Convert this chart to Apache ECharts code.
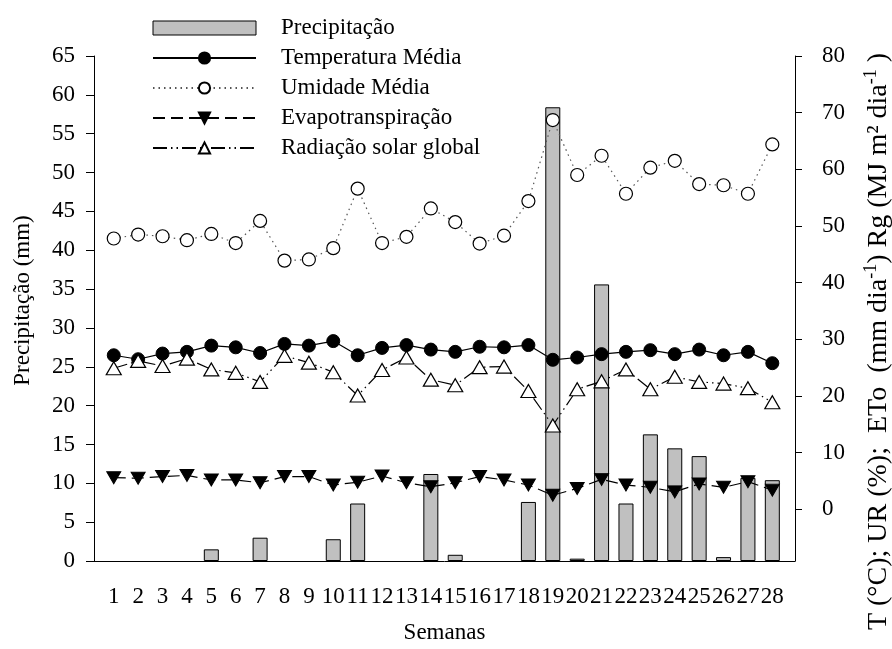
<!DOCTYPE html>
<html>
<head>
<meta charset="utf-8">
<script src="https://cdn.jsdelivr.net/npm/echarts@6/dist/echarts.min.js"></script>
<style>
  html, body { margin: 0; padding: 0; background: #fff; }
  #main { width: 892px; height: 649px; }
</style>
</head>
<body>
<div id="main"></div>
<script>
// semanas
var weeks = [1, 2, 3, 4, 5, 6, 7, 8, 9, 10, 11, 12, 13, 14, 15, 16, 17, 18, 19, 20, 21, 22, 23, 24, 25, 26, 27, 28];
// eixo esquerdo (mm)
var precipitacao = [0, 0, 0, 0, 1.5, 0, 3.0, 0, 0, 2.8, 7.4, 0, 0, 11.2, 0.8, 0, 0, 7.6, 58.4, 0.3, 35.6, 7.4, 16.3, 14.5, 13.5, 0.5, 10.7, 10.4];
// eixo direito
var temperatura = [27.2, 26.5, 27.5, 27.8, 28.9, 28.6, 27.6, 29.2, 28.9, 29.7, 27.2, 28.5, 29.0, 28.2, 27.8, 28.7, 28.6, 29.0, 26.4, 26.8, 27.4, 27.8, 28.1, 27.4, 28.2, 27.2, 27.8, 25.8];
var umidade = [47.8, 48.5, 48.2, 47.5, 48.6, 47.0, 50.9, 43.9, 44.1, 46.1, 56.6, 47.0, 48.1, 53.1, 50.7, 46.9, 48.3, 54.4, 68.7, 59.0, 62.4, 55.7, 60.3, 61.5, 57.4, 57.2, 55.7, 64.4];
var evapotranspiracao = [5.6, 5.5, 5.8, 6.0, 5.2, 5.2, 4.7, 5.8, 5.8, 4.3, 4.8, 5.9, 4.7, 4.0, 4.7, 5.8, 5.2, 4.3, 2.5, 3.7, 5.3, 4.3, 3.9, 3.1, 4.5, 3.9, 4.9, 3.4];
var radiacao = [24.9, 26.2, 25.3, 26.6, 24.7, 24.1, 22.5, 27.1, 25.9, 24.2, 20.1, 24.6, 26.8, 22.9, 21.9, 25.1, 25.2, 20.9, 14.8, 21.2, 22.6, 24.7, 21.2, 23.4, 22.5, 22.2, 21.4, 18.9];
// rótulos dos eixos
var leftTicks = [0, 5, 10, 15, 20, 25, 30, 35, 40, 45, 50, 55, 60, 65];
var rightTicks = [0, 10, 20, 30, 40, 50, 60, 70, 80];

var serif = "'Liberation Serif', 'Times New Roman', serif";

function pairs(arr) {
  return weeks.map(function (w, i) { return [w, arr[i]]; });
}

var chart = echarts.init(document.getElementById('main'), null, { renderer: 'canvas' });

var option = {
  backgroundColor: '#fff',
  animation: false,
  textStyle: { fontFamily: serif, color: '#000' },
  grid: { left: 94, right: 97, top: 56, bottom: 88, outerBoundsMode: 'none', containLabel: false },
  legend: {
    orient: 'vertical',
    left: 147,
    top: 11,
    itemWidth: 103,
    itemHeight: 14,
    itemGap: 6,
    textStyle: { fontFamily: serif, fontSize: 23, color: '#000', lineHeight: 24, padding: [0, 0, 0, 20] },
    data: [
      { name: 'Precipitação', icon: 'rect', itemStyle: { color: '#c0c0c0', borderColor: '#000', borderWidth: 1 } },
      { name: 'Temperatura Média' },
      { name: 'Umidade Média' },
      { name: 'Evapotranspiração' },
      { name: 'Radiação solar global' }
    ]
  },
  xAxis: {
    type: 'value',
    min: 0.19,
    max: 28.93,
    name: 'Semanas',
    nameLocation: 'middle',
    nameGap: 60,
    nameTextStyle: { fontFamily: serif, fontSize: 23, color: '#000' },
    axisLine: { show: true, lineStyle: { color: '#000', width: 1 } },
    axisTick: { show: false },
    splitLine: { show: false },
    axisLabel: {
      customValues: weeks,
      margin: 24,
      fontFamily: serif,
      fontSize: 23,
      color: '#000'
    }
  },
  yAxis: [{
    type: 'value',
    min: 0,
    max: 65,
    position: 'left',
    name: 'Precipitação (mm)',
    nameLocation: 'middle',
    nameGap: 60,
    nameTextStyle: { fontFamily: serif, fontSize: 23, color: '#000', padding: [0, 0, 0, 16] },
    axisLine: { show: true, lineStyle: { color: '#000', width: 1 } },
    axisTick: { show: true, length: 8, customValues: leftTicks, lineStyle: { color: '#000' } },
    splitLine: { show: false },
    axisLabel: { customValues: leftTicks, margin: 19, fontFamily: serif, fontSize: 23, color: '#000' }
  }, {
    type: 'value',
    min: -9.1,
    max: 80,
    position: 'right',
    name: '{t|T (°C); UR (%);  ETo  (mm dia}{s|-1}{t|) Rg (MJ m² dia}{s|-1}{t| )}',
    nameLocation: 'middle',
    nameGap: 67,
    nameRotate: 90,
    nameTextStyle: {
      padding: [0, 66, 0, 0],
      rich: {
        t: { fontFamily: serif, fontSize: 28, color: '#000' },
        s: { fontFamily: serif, fontSize: 18, color: '#000', padding: [0, 0, 16, 0] }
      }
    },
    axisLine: { show: true, lineStyle: { color: '#000', width: 1 } },
    axisTick: { show: true, length: 7, customValues: rightTicks, lineStyle: { color: '#000' } },
    splitLine: { show: false },
    axisLabel: { customValues: rightTicks, margin: 27, fontFamily: serif, fontSize: 23, color: '#000' }
  }],
  series: [{
    name: 'Precipitação',
    type: 'bar',
    yAxisIndex: 0,
    barWidth: 15,
    itemStyle: { color: '#c0c0c0', borderColor: '#000', borderWidth: 1 },
    data: weeks.map(function (w, i) { return [w, precipitacao[i] > 0 ? precipitacao[i] : '-']; }),
    z: 1
  }, {
    name: 'Temperatura Média',
    type: 'line',
    yAxisIndex: 1,
    symbol: 'circle',
    symbolSize: 13,
    itemStyle: { color: '#000', borderColor: '#000', borderWidth: 1 },
    lineStyle: { color: '#000', width: 1.2, type: 'solid' },
    data: pairs(temperatura),
    z: 3
  }, {
    name: 'Umidade Média',
    type: 'line',
    yAxisIndex: 1,
    symbol: 'circle',
    symbolSize: 13,
    itemStyle: { color: '#fff', borderColor: '#000', borderWidth: 1.2 },
    lineStyle: { color: '#555', width: 1.2, type: [1.5, 4] },
    data: pairs(umidade),
    z: 3
  }, {
    name: 'Evapotranspiração',
    type: 'line',
    yAxisIndex: 1,
    symbol: 'triangle',
    symbolRotate: 180,
    symbolSize: [14, 12],
    itemStyle: { color: '#000', borderColor: '#000', borderWidth: 1 },
    lineStyle: { color: '#000', width: 1.2, type: [12, 6] },
    data: pairs(evapotranspiracao),
    z: 3
  }, {
    name: 'Radiação solar global',
    type: 'line',
    yAxisIndex: 1,
    symbol: 'triangle',
    symbolSize: [15, 13],
    itemStyle: { color: '#fff', borderColor: '#000', borderWidth: 1.2 },
    lineStyle: { color: '#000', width: 1.2, type: [14, 4, 1.5, 4, 1.5, 4] },
    data: pairs(radiacao),
    z: 4
  }]
};

chart.setOption(option);
</script>
</body>
</html>
